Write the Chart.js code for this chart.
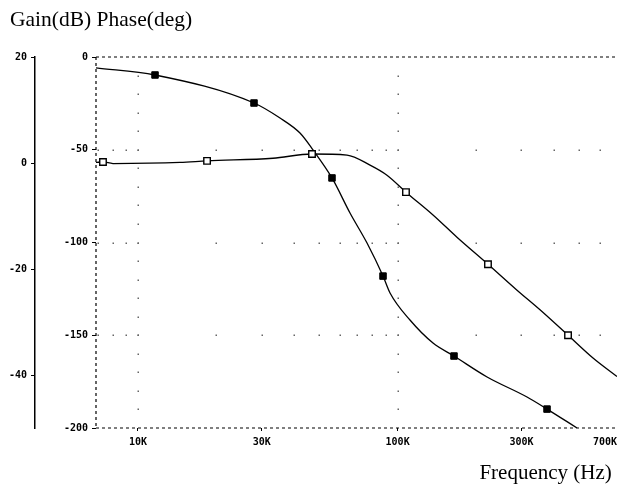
<!DOCTYPE html>
<html>
<head>
<meta charset="utf-8">
<script src="https://cdn.jsdelivr.net/npm/chart.js@4.4.1/dist/chart.umd.min.js"></script>
<style>
  html, body { margin: 0; padding: 0; background: #fff; }
  #wrap { width: 617px; height: 488px; }
</style>
</head>
<body>
<div id="wrap"><canvas id="bode"></canvas></div>
<script>
// --- Data ---
const gainFreq = [6890, 7330, 8010, 14520, 18450, 33110, 46800, 63850, 78300, 91000, 107700, 136900, 169300, 222900, 288400, 353600, 453400, 565800, 700000];
const gainDb = [0.1, 0.2, -0.1, 0.1, 0.4, 0.9, 1.7, 1.5, -0.4, -2.3, -5.5, -9.8, -14.0, -19.1, -24.0, -27.7, -32.5, -36.8, -40.3];
const gainMarks = [1, 4, 6, 10, 13, 16];

const phaseFreq = [6890, 11630, 27980, 35240, 42070, 47210, 55880, 65560, 76250, 87860, 93500, 111600, 136900, 164900, 221100, 315100, 376300, 491100];
const phaseDeg = [-5.9, -9.7, -24.8, -32.9, -41.0, -50.1, -65.2, -84.1, -100.3, -118.1, -127.2, -141.8, -154.2, -161.2, -172.5, -183.3, -189.8, -200];
const phaseMarks = [1, 2, 6, 9, 13, 16];

const freqMin = 6890, freqMax = 700000;
const freqTicks = [10000, 30000, 100000, 300000, 700000];
const freqLabels = ['10K', '30K', '100K', '300K', '700K'];
const gainTicks = [20, 0, -20, -40];
const phaseTicks = [0, -50, -100, -150, -200];

// dotted grid: major lines get a dot at every minor division
const gridFreqMajor = [10000, 100000];
const gridFreqMinor = [7000, 8000, 9000, 10000, 20000, 30000, 40000, 50000, 60000, 70000, 80000, 90000,
  100000, 200000, 300000, 400000, 500000, 600000];
const gridPhaseMajor = [-50, -100, -150];
const gridPhaseMinor = [-10, -20, -30, -40, -50, -60, -70, -80, -90, -100, -110, -120, -130, -140, -150, -160, -170, -180, -190];

const tickFont = { family: 'DejaVu Sans Mono', size: 10, weight: 'bold' };
const serif = 'Liberation Serif';

const dottedFrame = {
  id: 'dottedFrame',
  beforeDatasetsDraw(chart) {
    const { ctx, chartArea: a, scales } = chart;
    const x = scales.x, y = scales.phase;
    ctx.save();
    ctx.fillStyle = '#666';
    gridPhaseMajor.forEach(p => {
      gridFreqMinor.forEach(f => {
        ctx.fillRect(Math.round(x.getPixelForValue(f)) - 0.5, Math.round(y.getPixelForValue(p)) - 0.5, 1.5, 1.5);
      });
    });
    gridFreqMajor.forEach(f => {
      gridPhaseMinor.forEach(p => {
        ctx.fillRect(Math.round(x.getPixelForValue(f)) - 0.5, Math.round(y.getPixelForValue(p)) - 0.5, 1.5, 1.5);
      });
    });
    // dashed frame: top, bottom and the phase axis
    ctx.strokeStyle = '#000';
    ctx.lineWidth = 1.2;
    ctx.setLineDash([3, 3]);
    ctx.beginPath();
    ctx.moveTo(a.left, a.top); ctx.lineTo(a.right, a.top);
    ctx.moveTo(a.left, a.bottom); ctx.lineTo(a.right, a.bottom);
    ctx.moveTo(a.left, a.top); ctx.lineTo(a.left, a.bottom);
    ctx.stroke();
    ctx.restore();
  }
};

function toPoints(xs, ys) {
  return xs.map((f, i) => ({ x: f, y: ys[i] }));
}

const ctx = document.getElementById('bode').getContext('2d');
new Chart(ctx, {
  type: 'line',
  data: {
    datasets: [{
      label: 'Gain',
      yAxisID: 'gain',
      data: toPoints(gainFreq, gainDb),
      borderColor: '#000',
      borderWidth: 1.3,
      cubicInterpolationMode: 'monotone',
      pointStyle: 'rect',
      pointRadius: c => gainMarks.includes(c.dataIndex) ? 4.6 : 0,
      pointBackgroundColor: '#fff',
      pointBorderColor: '#000',
      pointBorderWidth: 1.4
    }, {
      label: 'Phase',
      yAxisID: 'phase',
      data: toPoints(phaseFreq, phaseDeg),
      borderColor: '#000',
      borderWidth: 1.3,
      cubicInterpolationMode: 'monotone',
      pointStyle: 'rect',
      pointRadius: c => phaseMarks.includes(c.dataIndex) ? 4.6 : 0,
      pointBackgroundColor: '#000',
      pointBorderColor: '#000',
      pointBorderWidth: 1
    }]
  },
  options: {
    responsive: true,
    maintainAspectRatio: false,
    animation: false,
    layout: { autoPadding: false, padding: { left: 10, right: 0, top: 0, bottom: 0 } },
    plugins: {
      legend: { display: false },
      tooltip: { enabled: false },
      title: {
        display: true,
        text: 'Gain(dB) Phase(deg)',
        align: 'start',
        color: '#000',
        font: { family: serif, size: 21.5, weight: 'normal' },
        padding: { top: 7, bottom: 24.2 }
      }
    },
    scales: {
      x: {
        type: 'logarithmic',
        min: freqMin,
        max: freqMax,
        afterBuildTicks: s => { s.ticks = [freqMin, ...freqTicks].map(v => ({ value: v })); },
        afterFit: s => { s.height = 60; s.paddingLeft = 0; s.paddingRight = 0; },
        ticks: {
          autoSkip: false,
          maxRotation: 0,
          align: 'inner',
          padding: 5,
          color: '#000',
          font: tickFont,
          callback: (v, i) => i === 0 ? '' : freqLabels[i - 1]
        },
        grid: {
          drawOnChartArea: false,
          tickLength: 3,
          tickColor: c => c.index === 0 ? 'rgba(0,0,0,0)' : '#000'
        },
        border: { display: false },
        title: {
          display: true,
          text: 'Frequency (Hz)\u00A0',
          align: 'end',
          color: '#000',
          font: { family: serif, size: 21, weight: 'normal' },
          padding: { top: 0, bottom: 2 }
        }
      },
      phase: {
        type: 'linear',
        position: 'left',
        weight: 0,
        min: -200,
        max: 0,
        afterBuildTicks: s => { s.ticks = phaseTicks.map(v => ({ value: v })); },
        afterFit: s => { s.width = 61; },
        ticks: { padding: 4, color: '#000', font: tickFont },
        grid: { drawOnChartArea: false, tickLength: 4, tickColor: '#000' },
        border: { display: false }
      },
      gain: {
        type: 'linear',
        position: 'left',
        weight: 1,
        min: -50,
        max: 20,
        afterBuildTicks: s => { s.ticks = gainTicks.map(v => ({ value: v })); },
        afterFit: s => { s.width = 25; },
        ticks: { padding: 4, color: '#000', font: tickFont },
        grid: { drawOnChartArea: false, tickLength: 4, tickColor: '#000' },
        border: { display: true, color: '#000', width: 1.5 }
      }
    }
  },
  plugins: [dottedFrame]
});
</script>
</body>
</html>
